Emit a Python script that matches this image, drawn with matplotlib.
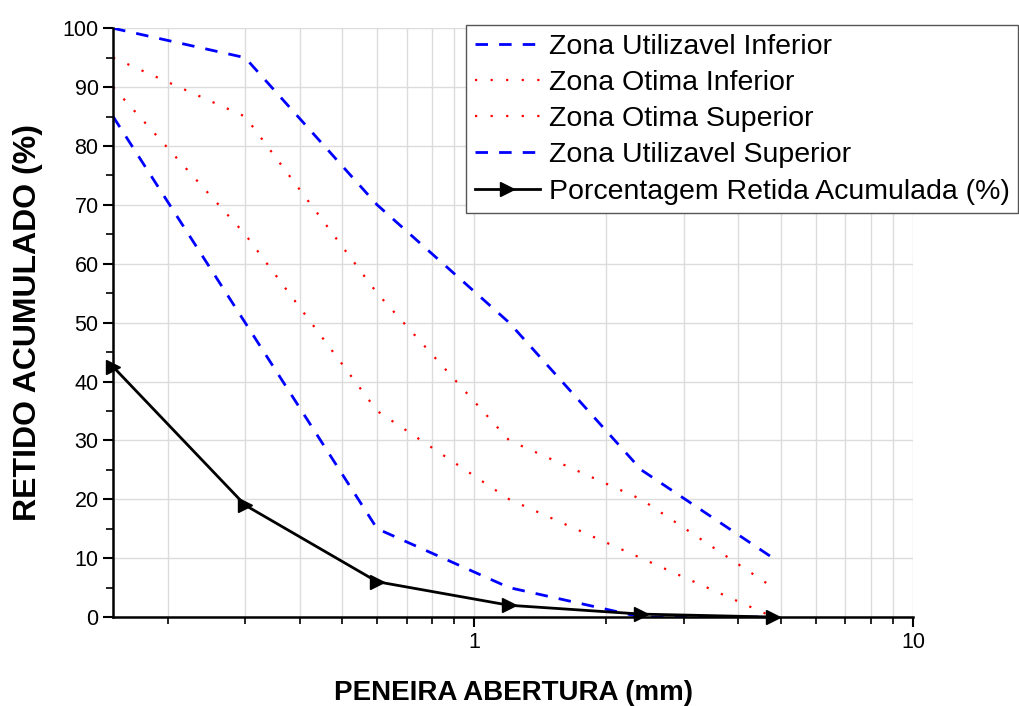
import numpy as np
import matplotlib.pyplot as plt
from matplotlib.ticker import LogLocator, NullFormatter, FixedLocator, MultipleLocator

plt.rcParams['font.family'] = ['Liberation Sans', 'DejaVu Sans']

peneiras = [0.15, 0.3, 0.6, 1.2, 2.4, 4.8]
util_inf = [85, 50, 15, 5, 0, 0]
otima_inf = [90, 65, 35, 20, 10, 0]
otima_sup = [95, 85, 55, 30, 20, 5]
util_sup = [100, 95, 70, 50, 25, 10]
retida_acum = [42.5, 19, 6, 2, 0.5, 0]

fig = plt.figure(figsize=(10.19, 7.06), dpi=100)
ax = fig.add_axes([0.111, 0.126, 0.785, 0.834])

ax.plot(peneiras, util_inf, color="#0000ff", lw=2, ls=(0, (4.5, 4)), label="Zona Utilizavel Inferior")
ax.plot(peneiras, otima_inf, color="#ff0000", lw=1.6, ls=(0, (1, 6)), label="Zona Otima Inferior")
ax.plot(peneiras, otima_sup, color="#ff0000", lw=1.6, ls=(0, (1, 6)), label="Zona Otima Superior")
ax.plot(peneiras, util_sup, color="#0000ff", lw=2, ls=(0, (4.5, 4)), label="Zona Utilizavel Superior")
ax.plot(peneiras, retida_acum, color="black", lw=2, marker=">", markersize=10,
        label="Porcentagem Retida Acumulada (%)", zorder=5, clip_on=False)

ax.set_xscale("log")
ax.set_xlim(0.15, 10)
ax.set_ylim(0, 100)
ax.xaxis.set_major_locator(FixedLocator([1, 10]))
ax.xaxis.set_major_formatter(plt.FuncFormatter(lambda v, p: "%g" % v))
ax.xaxis.set_minor_locator(LogLocator(base=10, subs=np.arange(2, 10)))
ax.xaxis.set_minor_formatter(NullFormatter())
ax.yaxis.set_major_locator(MultipleLocator(10))
ax.yaxis.set_minor_locator(MultipleLocator(5))

ax.grid(True, which="both", axis="x", color="#dcdcdc", lw=1)
ax.grid(True, which="major", axis="y", color="#dcdcdc", lw=1)
ax.set_axisbelow(True)

for s in ["top", "right"]:
    ax.spines[s].set_visible(False)
for s in ["left", "bottom"]:
    ax.spines[s].set_linewidth(1.8)
ax.tick_params(which="major", length=7, width=1.5, labelsize=15.5, direction="out")
ax.tick_params(which="minor", length=5, width=1.2, direction="out")

ax.set_xlabel("PENEIRA ABERTURA (mm)", fontsize=20, fontweight="bold", labelpad=20)
ax.set_ylabel("RETIDO ACUMULADO (%)", fontsize=23, fontweight="bold", labelpad=14)

leg = ax.legend(loc="upper right", bbox_to_anchor=(1018 / 1019, 1 - 25 / 706),
                bbox_transform=fig.transFigure, fontsize=20.5, fancybox=False,
                framealpha=1, edgecolor="#555555", borderpad=0.3, labelspacing=0.36,
                handlelength=2.3, handletextpad=0.3, borderaxespad=0)
leg.get_frame().set_linewidth(1)

fig.savefig("out.png", dpi=100)
